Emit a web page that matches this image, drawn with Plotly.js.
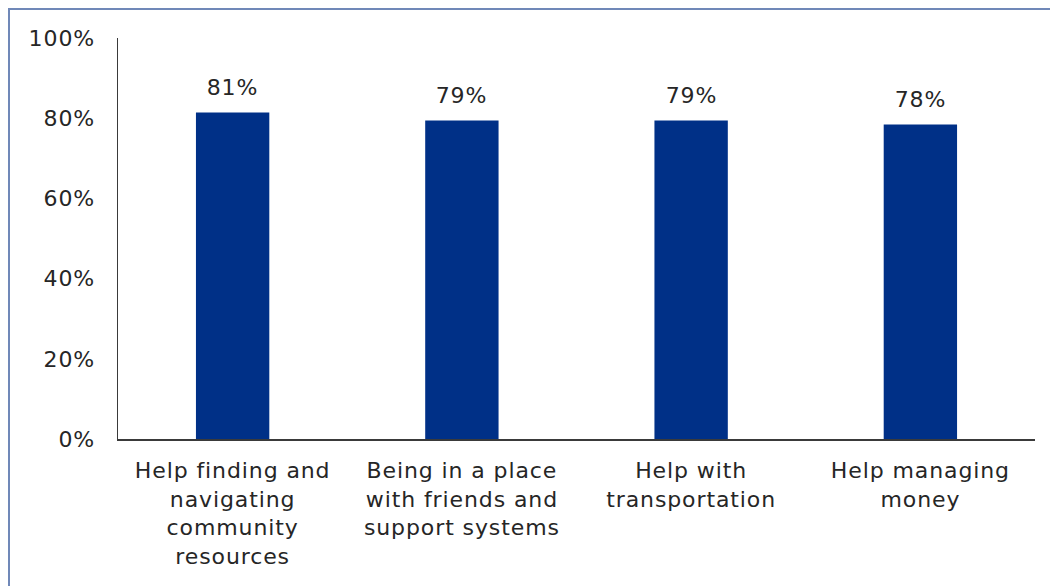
<!DOCTYPE html>
<html>
<head>
<meta charset="utf-8">
<script src="https://cdn.plot.ly/plotly-3.0.1.min.js"></script>
<style>
  html, body { margin: 0; padding: 0; background: #ffffff; overflow: hidden; }
  #wrap { position: relative; width: 1050px; height: 586px; }
  #chart { position: absolute; left: 0; top: 0; width: 1050px; height: 586px; }
  #frame { position: absolute; left: 8px; top: 8px; width: 1100px; height: 700px;
           border: 2px solid #7088b8; box-sizing: border-box; pointer-events: none; }
  #chart text { letter-spacing: 0.9px; }
</style>
</head>
<body>
<div id="wrap">
  <div id="chart"></div>
  <div id="frame"></div>
</div>
<script>
const categories = [
  "Help finding and<br>navigating<br>community<br>resources",
  "Being in a place<br>with friends and<br>support systems",
  "Help with<br>transportation",
  "Help managing<br>money"
];
const values = [81.4, 79.4, 79.4, 78.4];
const valueLabels = ["81%", "79%", "79%", "78%"];
const yTickValues = [0, 20, 40, 60, 80, 100];
const yTickLabels = ["0%", "20%", "40%", "60%", "80%", "100%"];

const FONT = "DejaVu Sans, Verdana, sans-serif";
const TEXT_COLOR = "#262626";

const trace = {
  type: "bar",
  x: categories,
  y: values,
  marker: { color: "#003087" },
  hoverinfo: "none"
};

const annotations = categories.map((c, i) => ({
  x: c, y: values[i], xref: "x", yref: "y",
  text: valueLabels[i], showarrow: false,
  yanchor: "bottom", yshift: 11,
  font: { family: FONT, size: 22, color: TEXT_COLOR }
}));

const layout = {
  width: 1050, height: 586,
  margin: { l: 118, r: 15, t: 38, b: 147 },
  paper_bgcolor: "#ffffff",
  plot_bgcolor: "#ffffff",
  bargap: 0.68,
  showlegend: false,
  font: { family: FONT, size: 22, color: TEXT_COLOR },
  xaxis: {
    type: "category",
    showline: true, linecolor: "#3a3a3a", linewidth: 1.5,
    showgrid: false, zeroline: false, ticks: "",
    tickfont: { family: FONT, size: 22, color: TEXT_COLOR },
    ticklabelstandoff: 11
  },
  yaxis: {
    range: [0, 100],
    tickvals: yTickValues, ticktext: yTickLabels,
    showline: true, linecolor: "#3a3a3a", linewidth: 1.5,
    showgrid: false, zeroline: false, ticks: "",
    tickfont: { family: FONT, size: 22, color: TEXT_COLOR },
    ticklabelstandoff: 17
  },
  annotations: annotations
};

Plotly.newPlot("chart", [trace], layout, { displayModeBar: false, staticPlot: true });
</script>
</body>
</html>
